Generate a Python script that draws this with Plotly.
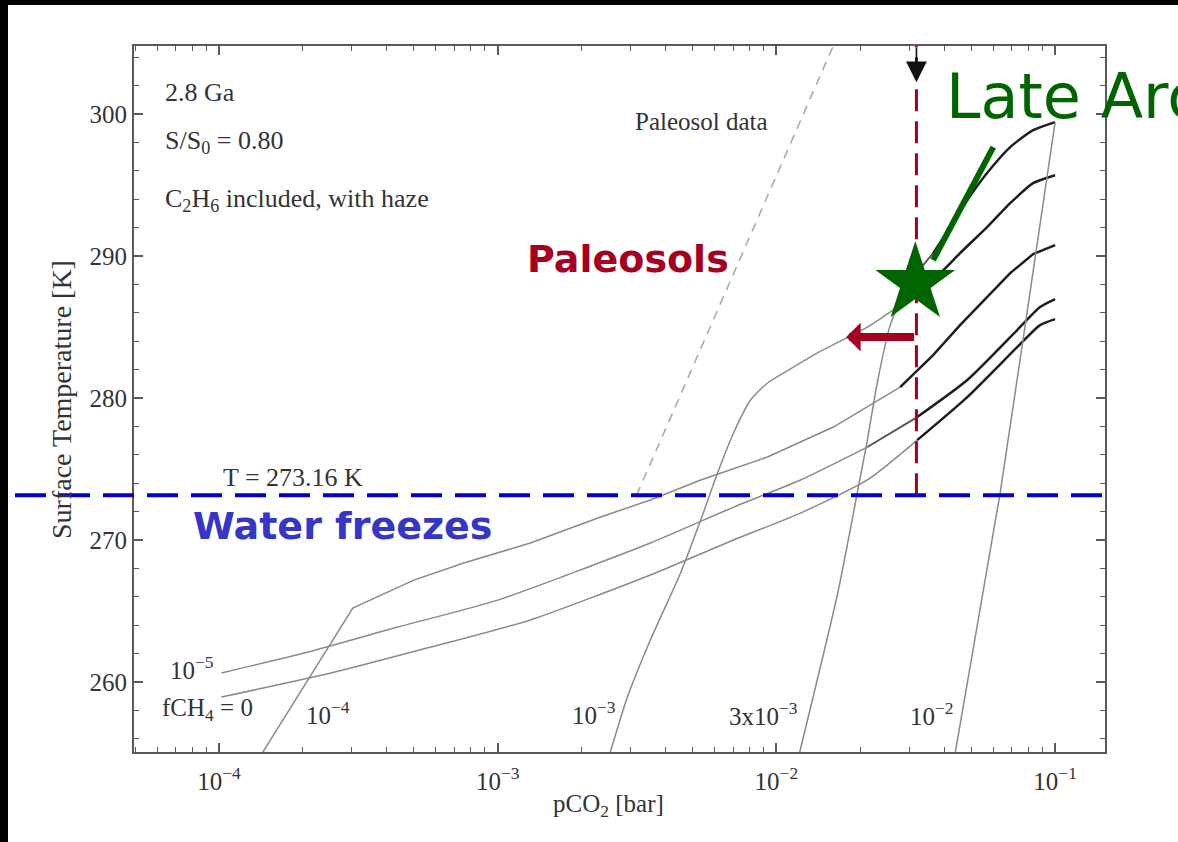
import numpy as np
import plotly.graph_objects as go

# ---------------- data ----------------
# pCO2 [bar] and surface temperature [K] for each fCH4 curve
pco2_f0 = [1.02e-4, 2.52e-4, 5.75e-4, 1.31e-3, 3.53e-3, 7.02e-3, 1.22e-2, 2.12e-2, 3.20e-2, 4.84e-2, 7.31e-2, 8.83e-2, 0.1]
temp_f0 = [258.94, 260.63, 262.46, 264.37, 267.54, 270.0, 271.9, 274.23, 277.04, 280.07, 283.59, 285.14, 285.56]

pco2_f1e5 = [1.02e-4, 2.02e-4, 4.38e-4, 1.0e-3, 3.53e-3, 7.02e-3, 1.22e-2, 2.12e-2, 3.20e-2, 4.84e-2, 7.31e-2, 8.83e-2, 0.1]
temp_f1e5 = [260.63, 262.04, 263.87, 265.77, 269.79, 272.32, 274.23, 276.55, 278.66, 281.27, 284.79, 286.41, 286.97]

pco2_f1e4 = [1.43e-4, 3.02e-4, 5.0e-4, 7.55e-4, 1.31e-3, 2.34e-3, 3.53e-3, 5.35e-3, 9.29e-3, 1.60e-2, 2.78e-2, 3.65e-2, 4.56e-2, 5.70e-2, 6.90e-2, 8.34e-2, 0.1]
temp_f1e4 = [255.0, 265.21, 267.18, 268.38, 269.79, 271.62, 272.82, 274.23, 275.85, 277.96, 280.77, 283.03, 285.14, 287.11, 288.80, 290.14, 290.77]

pco2_f1e3 = [2.53e-3, 2.92e-3, 3.53e-3, 4.53e-3, 5.35e-3, 6.15e-3, 7.02e-3, 8.07e-3, 9.29e-3, 1.06e-2, 1.40e-2, 2.12e-2, 2.62e-2, 3.28e-2, 3.97e-2, 4.56e-2, 5.70e-2, 6.90e-2, 8.34e-2, 0.1]
temp_f1e3 = [255.0, 258.94, 262.96, 267.68, 271.41, 274.72, 277.54, 279.86, 281.06, 281.76, 283.17, 285.0, 286.20, 287.61, 289.01, 290.21, 292.04, 293.73, 295.14, 295.70]

pco2_f3e3 = [1.21e-2, 1.66e-2, 2.0e-2, 2.12e-2, 2.30e-2, 2.56e-2, 2.78e-2, 3.15e-2, 3.65e-2, 4.21e-2, 4.84e-2, 5.70e-2, 6.90e-2, 8.34e-2, 0.1]
temp_f3e3 = [255.0, 266.27, 274.44, 277.04, 281.06, 285.14, 286.90, 288.66, 290.21, 292.04, 293.94, 295.85, 297.68, 298.87, 299.44]

pco2_f1e2 = [4.38e-2, 6.35e-2, 7.67e-2, 0.1]
temp_f1e2 = [255.0, 273.31, 284.08, 299.44]

# paleosol upper limit (dashed line in the original figure)
pco2_paleosol = [3.15e-3, 1.70e-2]
temp_paleosol = [273.16, 306.0]

T_freeze = 273.16
pco2_paleosol_limit = 0.0318      # red dashed constraint
pco2_arrow_tip = 0.0178           # red arrow tip
T_arrow = 284.3
late_archean_pco2 = 0.0315        # green star
late_archean_T = 288.1
pointer_pco2 = [0.0365, 0.060]    # green pointer line
pointer_T = [289.72, 297.68]

x_tickvals = [1e-4, 1e-3, 1e-2, 1e-1]
x_ticktext = ["10<sup>−4</sup>", "10<sup>−3</sup>", "10<sup>−2</sup>", "10<sup>−1</sup>"]
y_tickvals = [260, 270, 280, 290, 300]

curves = [
    (pco2_f0, temp_f0),
    (pco2_f1e5, temp_f1e5),
    (pco2_f1e4, temp_f1e4),
    (pco2_f1e3, temp_f1e3),
    (pco2_f3e3, temp_f3e3),
    (pco2_f1e2, temp_f1e2),
]
# styles: pCO2 from which the curve is drawn bold (None = thin throughout), spline smoothing
thick_from = [0.028, 0.026, 0.025, 0.030, 0.033, None]
smoothing = [0.6, 0.6, 0.0, 0.6, 0.6, 0.0]

# ---------------- layout geometry ----------------
W, H = 1178, 842
L, R, T, B = 134, 73, 46, 90
PW, PH = W - L - R, H - T - B


def xp(px):
    return (px - L) / PW


def yp(py):
    return (H - B - py) / PH


SERIF = "Liberation Serif"
GREY_TXT = "#333333"

fig = go.Figure()

# paleosol dashed line
fig.add_trace(go.Scatter(x=pco2_paleosol, y=temp_paleosol, mode="lines",
                         line=dict(color="#ababab", width=1.6, dash="9px,7px"),
                         hoverinfo="skip", showlegend=False))


def seg(xs, ys, color, width, smooth):
    line = dict(color=color, width=width)
    if smooth > 0 and len(xs) > 2:
        line.update(shape="spline", smoothing=smooth)
    fig.add_trace(go.Scatter(x=xs, y=ys, mode="lines", line=line,
                             hoverinfo="skip", showlegend=False))


for (xs, ys), thr, sm in zip(curves, thick_from, smoothing):
    if thr is None:
        seg(xs, ys, "#8a8a8a", 1.5, sm)
        continue
    k = next(i for i, v in enumerate(xs) if v >= thr)
    j = next(i for i, v in enumerate(xs) if v >= thr * 0.78)
    j = min(j, k)
    seg(xs[:j + 1], ys[:j + 1], "#8a8a8a", 1.5, sm)
    if k > j:
        seg(xs[j:k + 1], ys[j:k + 1], "#555555", 1.9, sm)
    seg(xs[k:], ys[k:], "#1e1e1e", 2.5, sm)

# red dashed vertical constraint
fig.add_trace(go.Scatter(x=[pco2_paleosol_limit, pco2_paleosol_limit], y=[T_freeze, 306],
                         mode="lines", line=dict(color="#a50021", width=3, dash="22px,10px"),
                         hoverinfo="skip", showlegend=False))

# green pointer + star
fig.add_trace(go.Scatter(x=pointer_pco2, y=pointer_T, mode="lines",
                         line=dict(color="#006400", width=6),
                         hoverinfo="skip", showlegend=False))
fig.add_trace(go.Scatter(x=[late_archean_pco2], y=[late_archean_T], mode="markers",
                         marker=dict(symbol="star", size=60, color="#006400", line=dict(width=0)),
                         hoverinfo="skip", showlegend=False))

# freezing line (extends past the plot area)
fig.add_shape(type="line", xref="paper", yref="y", x0=xp(15), x1=xp(1110),
              y0=T_freeze, y1=T_freeze, line=dict(color="#0000cc", width=4, dash="31px,13px"))

# black borders of the scanned picture
fig.add_shape(type="rect", xref="paper", yref="paper", x0=xp(0), x1=xp(8), y0=yp(H), y1=yp(0),
              fillcolor="black", line=dict(width=0))
fig.add_shape(type="rect", xref="paper", yref="paper", x0=xp(0), x1=xp(W), y0=yp(5), y1=yp(0),
              fillcolor="black", line=dict(width=0))

# arrows
lx = np.log10
fig.add_annotation(x=lx(pco2_arrow_tip), y=T_arrow, ax=lx(pco2_paleosol_limit) - 0.003, ay=T_arrow,
                   xref="x", yref="y", axref="x", ayref="y", text="", showarrow=True,
                   arrowhead=1, arrowsize=0.6, arrowwidth=8, arrowcolor="#a50021")
fig.add_annotation(x=lx(pco2_paleosol_limit), y=302.25, ax=lx(pco2_paleosol_limit), ay=304.8,
                   xref="x", yref="y", axref="x", ayref="y", text="", showarrow=True,
                   arrowhead=2, arrowsize=2.6, arrowwidth=1.6, arrowcolor="#111111")


def label(text, px, py, size=26, color=GREY_TXT, family=SERIF, xanchor="center", bold=False, angle=0):
    fig.add_annotation(x=xp(px), y=yp(py), xref="paper", yref="paper", text=text,
                       showarrow=False, xanchor=xanchor, yanchor="middle", textangle=angle,
                       font=dict(size=size, color=color, family=family,
                                 weight="bold" if bold else "normal"))


label("2.8 Ga", 163, 92, xanchor="left")
label("S/S<sub>0</sub> = 0.80", 163, 142, xanchor="left")
label("C<sub>2</sub>H<sub>6</sub> included, with haze", 163, 200, xanchor="left")
label("Paleosol data", 701, 121, size=25)
label("T = 273.16 K", 293, 478)
label("10<sup>−5</sup>", 192, 668, size=25)
label("fCH<sub>4</sub> = 0", 207, 709, size=25)
label("10<sup>−4</sup>", 328, 713, size=25)
label("10<sup>−3</sup>", 594, 713, size=25)
label("3x10<sup>−3</sup>", 763, 714, size=25)
label("10<sup>−2</sup>", 932, 714, size=25)

label("Paleosols", 628, 259, size=38, color="#a50021", family="DejaVu Sans", bold=True)
label("Water freezes", 342, 526, size=38, color="#3535c8", family="DejaVu Sans", bold=True)
label("Late Archean", 944, 96, size=62, color="#006400", family="DejaVu Sans", xanchor="left")

# axis titles
label("pCO<sub>2</sub> [bar]", 608, 806, size=25)
label("Surface Temperature [K]", 61, 400, size=28, angle=-90)

axis_common = dict(showgrid=False, zeroline=False, showline=True, linecolor="#5a5a5a", linewidth=1.8,
                   mirror="allticks", ticks="inside", tickcolor="#5a5a5a", tickwidth=1.5,
                   ticklen=9, tickfont=dict(size=25, color=GREY_TXT, family=SERIF))

fig.update_xaxes(type="log", range=[-4.305, -0.821], tickvals=x_tickvals, ticktext=x_ticktext,
                 ticklabelstandoff=6,
                 minor=dict(ticks="inside", ticklen=5, tickcolor="#5a5a5a", tickwidth=1.2,
                            tickvals=[m * d for d in [1e-5, 1e-4, 1e-3, 1e-2, 1e-1] for m in range(2, 10)]),
                 **axis_common)
fig.update_yaxes(range=[255.07, 304.8], tickvals=y_tickvals,
                 minor=dict(ticks="inside", ticklen=5, tickcolor="#5a5a5a", tickwidth=1.2, dtick=2),
                 **axis_common)

fig.update_layout(width=W, height=H, margin=dict(l=L, r=R, t=T, b=B, autoexpand=False),
                  paper_bgcolor="white", plot_bgcolor="white", showlegend=False,
                  font=dict(family=SERIF, color=GREY_TXT))

fig.write_html("out.html")
